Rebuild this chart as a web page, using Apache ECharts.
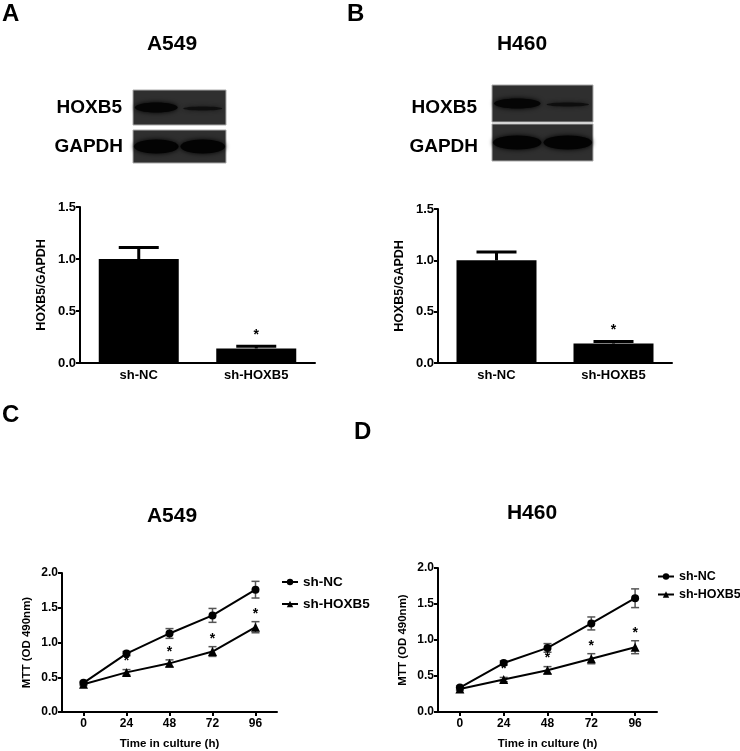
<!DOCTYPE html>
<html>
<head>
<meta charset="utf-8">
<script src="https://cdn.jsdelivr.net/npm/echarts@6/dist/echarts.min.js"></script>
<style>html,body{margin:0;padding:0;background:#fff}#c{width:740px;height:751px}</style>
</head>
<body>
<div id="c"></div>
<script>
// ---- data ----
const barCategories = ['sh-NC', 'sh-HOXB5'];
const barA_values = [1.00, 0.14];
const barA_errors = [0.11, 0.02];
const barA_stars = [false, true];
const barB_values = [1.00, 0.19];
const barB_errors = [0.08, 0.02];
const barB_stars = [false, true];
const barYTicks = [0, 0.5, 1.0, 1.5];

const timeCategories = ['0', '24', '48', '72', '96'];
const mttYTicks = [0, 0.5, 1.0, 1.5, 2.0];
const C_NC = [0.42, 0.84, 1.13, 1.39, 1.76];
const C_NC_err = [0.02, 0.03, 0.07, 0.10, 0.12];
const C_KD = [0.40, 0.57, 0.70, 0.87, 1.22];
const C_KD_err = [0.02, 0.04, 0.05, 0.07, 0.08];
const C_KD_stars = [false, true, true, true, true];
const D_NC = [0.34, 0.68, 0.89, 1.23, 1.58];
const D_NC_err = [0.02, 0.03, 0.06, 0.09, 0.13];
const D_KD = [0.32, 0.45, 0.58, 0.74, 0.90];
const D_KD_err = [0.02, 0.03, 0.05, 0.07, 0.09];
const D_KD_stars = [false, true, true, true, true];

const FONT = '"Liberation Sans", Arial, sans-serif';
const chart = echarts.init(document.getElementById('c'));

function barErrData(vals, errs, stars) {
  return vals.map((v, i) => [i, v, errs[i], stars[i] ? 1 : 0]);
}
function lineErrData(vals, errs, stars) {
  return vals.map((v, i) => [i, v, errs[i], stars && stars[i] ? 1 : 0]);
}
function barErrRender(params, api) {
  const i = api.value(0), v = api.value(1), e = api.value(2), s = api.value(3);
  const base = api.coord([i, v]);
  const top = api.coord([i, v + e]);
  const half = 20;
  const children = [
    {type: 'line', shape: {x1: base[0], y1: base[1], x2: top[0], y2: top[1]}, style: {stroke: '#000', lineWidth: 3}},
    {type: 'line', shape: {x1: top[0] - half, y1: top[1], x2: top[0] + half, y2: top[1]}, style: {stroke: '#000', lineWidth: 3}}
  ];
  if (s) children.push({type: 'text', style: {text: '*', x: top[0], y: top[1] - 4, align: 'center', verticalAlign: 'bottom', font: 'bold 14px ' + FONT, fill: '#000'}});
  return {type: 'group', children};
}
function lineErrRender(params, api) {
  const i = api.value(0), v = api.value(1), e = api.value(2), s = api.value(3);
  const hi = api.coord([i, v + e]);
  const lo = api.coord([i, v - e]);
  const half = 4;
  const st = {stroke: '#555', lineWidth: 1.5};
  const children = [
    {type: 'line', shape: {x1: hi[0], y1: hi[1], x2: lo[0], y2: lo[1]}, style: st},
    {type: 'line', shape: {x1: hi[0] - half, y1: hi[1], x2: hi[0] + half, y2: hi[1]}, style: st},
    {type: 'line', shape: {x1: lo[0] - half, y1: lo[1], x2: lo[0] + half, y2: lo[1]}, style: st}
  ];
  if (s) children.push({type: 'text', style: {text: '*', x: hi[0], y: hi[1] - 1, align: 'center', verticalAlign: 'bottom', font: 'bold 14px ' + FONT, fill: '#000'}});
  return {type: 'group', children};
}

const axisLineStyle = {show: true, lineStyle: {color: '#000', width: 2}};
const tickStyle = {show: true, inside: false, length: 4, lineStyle: {color: '#000', width: 2}};
function lbl(size) { return {color: '#000', fontWeight: 'bold', fontSize: size, fontFamily: FONT}; }

function yAxisBar(gi) {
  return {type: 'value', gridIndex: gi, min: 0, max: 1.5, interval: 0.5,
    axisLine: axisLineStyle, axisTick: tickStyle, splitLine: {show: false},
    axisLabel: Object.assign({margin: 4, formatter: v => v.toFixed(1)}, lbl(13)),
    name: 'HOXB5/GAPDH', nameLocation: 'middle', nameRotate: 90, nameGap: 32,
    nameTextStyle: lbl(12.5)};
}
function xAxisBar(gi) {
  return {type: 'category', gridIndex: gi, data: barCategories,
    axisLine: axisLineStyle, axisTick: {show: false},
    axisLabel: Object.assign({margin: 6}, lbl(13))};
}
function yAxisLine(gi) {
  return {type: 'value', gridIndex: gi, min: 0, max: 2.0, interval: 0.5,
    axisLine: axisLineStyle, axisTick: tickStyle, splitLine: {show: false},
    axisLabel: Object.assign({margin: 4, formatter: v => v.toFixed(1)}, lbl(12)),
    name: 'MTT (OD 490nm)', nameLocation: 'middle', nameRotate: 90, nameGap: 29,
    nameTextStyle: lbl(11.5)};
}
function xAxisLine(gi) {
  return {type: 'category', gridIndex: gi, data: timeCategories, boundaryGap: true,
    axisLine: axisLineStyle, axisTick: Object.assign({alignWithLabel: true}, tickStyle),
    axisLabel: Object.assign({margin: 6}, lbl(12)),
    name: 'Time in culture (h)', nameLocation: 'middle', nameGap: 26,
    nameTextStyle: lbl(11.5)};
}

function blot(x0, yTop, w, h1, h2, gap, faintStrength) {
  const els = [];
  const y2 = yTop + h1 + gap;
  const boxStyle = {fill: '#2f2f2f', stroke: '#aaa', lineWidth: 1};
  els.push({type: 'rect', shape: {x: x0, y: yTop, width: w, height: h1}, style: boxStyle});
  els.push({type: 'rect', shape: {x: x0, y: y2, width: w, height: h2}, style: boxStyle});
  const laneW = w / 2;
  els.push({type: 'ellipse', shape: {cx: x0 + laneW * 0.5, cy: yTop + h1 / 2, rx: laneW * 0.46, ry: 5},
    style: {fill: '#050505', shadowBlur: 5, shadowColor: '#000'}});
  els.push({type: 'ellipse', shape: {cx: x0 + laneW * 1.5, cy: yTop + h1 / 2 + 1, rx: laneW * 0.42, ry: 2},
    style: {fill: 'rgba(10,10,10,' + faintStrength + ')', shadowBlur: 4, shadowColor: '#111'}});
  els.push({type: 'ellipse', shape: {cx: x0 + laneW * 0.5, cy: y2 + h2 / 2, rx: laneW * 0.48, ry: 7},
    style: {fill: '#030303', shadowBlur: 5, shadowColor: '#000'}});
  els.push({type: 'ellipse', shape: {cx: x0 + laneW * 1.5, cy: y2 + h2 / 2, rx: laneW * 0.48, ry: 7},
    style: {fill: '#030303', shadowBlur: 5, shadowColor: '#000'}});
  return els;
}
function txt(text, x, y, size, align) {
  return {type: 'text', x: x, y: y, style: {text: text, font: 'bold ' + size + 'px ' + FONT, fill: '#000',
    align: align || 'center', verticalAlign: 'middle'}};
}

const graphics = [].concat(
  [txt('A', 2, 14, 24, 'left'), txt('B', 347, 14, 24, 'left'),
   txt('C', 2, 415, 24, 'left'), txt('D', 354, 432, 24, 'left'),
   txt('A549', 172, 44, 21), txt('H460', 522, 44, 21),
   txt('A549', 172, 516, 21), txt('H460', 532, 513, 21),
   txt('HOXB5', 122, 108, 19, 'right'), txt('GAPDH', 123, 147, 19, 'right'),
   txt('HOXB5', 477, 108, 19, 'right'), txt('GAPDH', 478, 147, 19, 'right')],
  blot(133, 90, 93, 35, 33, 5, 0.8),
  blot(492, 85, 101, 37, 37, 2, 0.85)
);

const legendText = {color: '#000', fontWeight: 'bold', fontSize: 13.5, fontFamily: FONT};
const option = {
  backgroundColor: '#fff',
  animation: false,
  textStyle: {fontFamily: FONT},
  graphic: {elements: graphics},
  grid: [
    {left: 80, top: 207, width: 235, height: 156},
    {left: 438, top: 209, width: 234, height: 154},
    {left: 62, top: 573, width: 215, height: 144},
    {left: 438, top: 568, width: 219, height: 146}
  ],
  xAxis: [xAxisBar(0), xAxisBar(1), xAxisLine(2), xAxisLine(3)],
  yAxis: [yAxisBar(0), yAxisBar(1), yAxisLine(2), yAxisLine(3)],
  legend: [
    {left: 276, top: 570, orient: 'vertical', itemWidth: 16, itemHeight: 8, itemGap: 8,
      data: ['sh-NC', 'sh-HOXB5'], textStyle: legendText},
    {left: 652, top: 565, orient: 'vertical', itemWidth: 16, itemHeight: 8, itemGap: 5, padding: [5, 0, 5, 5],
      data: ['sh-NC', 'sh-HOXB5'], textStyle: Object.assign({}, legendText, {fontSize: 12.5})}
  ],
  series: [
    {type: 'bar', xAxisIndex: 0, yAxisIndex: 0, data: barA_values, barWidth: 80, itemStyle: {color: '#000'}, z: 2},
    {type: 'custom', xAxisIndex: 0, yAxisIndex: 0, data: barErrData(barA_values, barA_errors, barA_stars), renderItem: barErrRender, z: 3},
    {type: 'bar', xAxisIndex: 1, yAxisIndex: 1, data: barB_values, barWidth: 80, itemStyle: {color: '#000'}, z: 2},
    {type: 'custom', xAxisIndex: 1, yAxisIndex: 1, data: barErrData(barB_values, barB_errors, barB_stars), renderItem: barErrRender, z: 3},

    {name: 'sh-NC', type: 'line', xAxisIndex: 2, yAxisIndex: 2, data: C_NC, symbol: 'circle', symbolSize: 8,
      lineStyle: {color: '#000', width: 2}, itemStyle: {color: '#000'}, z: 4},
    {name: 'sh-HOXB5', type: 'line', xAxisIndex: 2, yAxisIndex: 2, data: C_KD, symbol: 'triangle', symbolSize: 9,
      lineStyle: {color: '#000', width: 2}, itemStyle: {color: '#000'}, z: 4},
    {type: 'custom', xAxisIndex: 2, yAxisIndex: 2, data: lineErrData(C_NC, C_NC_err), renderItem: lineErrRender, z: 3},
    {type: 'custom', xAxisIndex: 2, yAxisIndex: 2, data: lineErrData(C_KD, C_KD_err, C_KD_stars), renderItem: lineErrRender, z: 3},

    {name: 'sh-NC', type: 'line', xAxisIndex: 3, yAxisIndex: 3, data: D_NC, symbol: 'circle', symbolSize: 8,
      lineStyle: {color: '#000', width: 2}, itemStyle: {color: '#000'}, z: 4},
    {name: 'sh-HOXB5', type: 'line', xAxisIndex: 3, yAxisIndex: 3, data: D_KD, symbol: 'triangle', symbolSize: 9,
      lineStyle: {color: '#000', width: 2}, itemStyle: {color: '#000'}, z: 4},
    {type: 'custom', xAxisIndex: 3, yAxisIndex: 3, data: lineErrData(D_NC, D_NC_err), renderItem: lineErrRender, z: 3},
    {type: 'custom', xAxisIndex: 3, yAxisIndex: 3, data: lineErrData(D_KD, D_KD_err, D_KD_stars), renderItem: lineErrRender, z: 3}
  ]
};
chart.setOption(option);
</script>
</body>
</html>
